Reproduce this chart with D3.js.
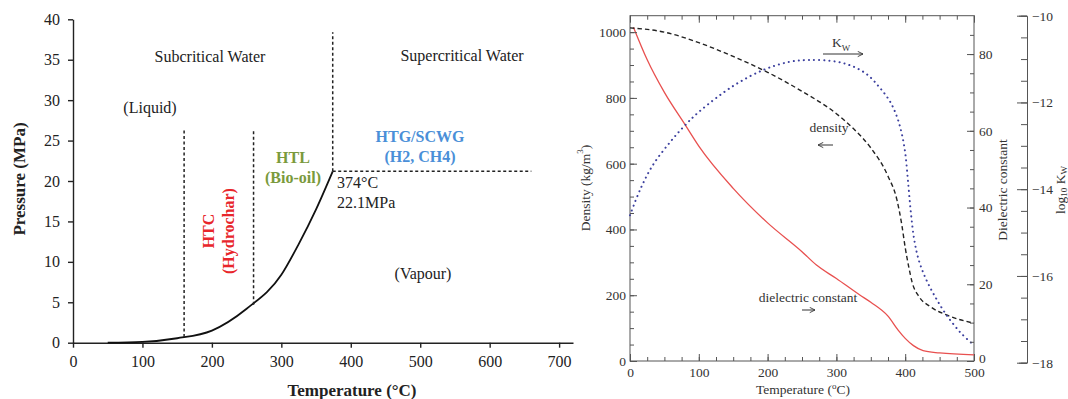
<!DOCTYPE html>
<html lang="en">
<head>
<meta charset="UTF-8">
<title>Water: phase diagram and properties</title>
<script src="https://d3js.org/d3.v7.min.js"></script>
<style>
  body { margin: 0; background: #fff; }
  svg { display: block; font-family: 'Liberation Serif', 'Times New Roman', serif; }
  .axL text { font-size: 16px; fill: #222; }
  .axL path, .axL line { stroke: #222; stroke-width: 1.4; }
  .axR text { font-size: 13.5px; fill: #333; }
  .axR path, .axR line { stroke: #555; stroke-width: 1; }
</style>
</head>
<body>
<script>
// ---- left panel: P-T diagram ----
const satTemp  = [50, 100, 150, 200, 250, 300, 325, 350, 374];
const satPress = [0.0, 0.1, 0.55, 1.5, 4.2, 8.4, 12.2, 16.5, 21.2];
const leftTempTicks  = [0, 100, 200, 300, 400, 500, 600, 700];
const leftPressTicks = [0, 5, 10, 15, 20, 25, 30, 35, 40];
// process boundaries (vertical dashed lines)
const boundTemp = [160, 260, 374];
const boundLow  = [0.7, 4.7, 21.2];
const boundHigh = [26.3, 26.3, 38.4];
// critical isobar
const critTemp  = [374, 660];
const critPress = [21.2, 21.2];

// ---- right panel: properties vs temperature ----
const rhoTemp = [0, 50, 100, 150, 200, 250, 300, 325, 350, 375, 388, 395, 400, 405, 410, 420, 436, 460, 500];
const rho     = [1013, 1000, 968, 926, 878, 820, 752, 706, 648, 562, 490, 415, 345, 288, 240, 196, 166, 140, 115];
const epsTemp = [5, 25, 50, 80, 100, 150, 200, 250, 271, 300, 334, 350, 375, 390, 400, 412, 426, 450, 500];
const eps     = [87, 78.5, 70, 61.6, 56, 45, 36, 28.5, 25, 21.5, 17.2, 15.3, 11.7, 8, 5.9, 4, 2.7, 2.1, 1.6];
const kwTemp  = [0, 15, 33, 58, 78, 100, 150, 194, 230, 260, 300, 324, 345, 363, 378, 388, 395, 400, 404, 408, 413, 420, 431, 445, 460, 480, 500];
const logKw   = [-14.6, -14.0, -13.45, -12.92, -12.56, -12.22, -11.62, -11.25, -11.07, -11.02, -11.06, -11.17, -11.36, -11.66, -11.98, -12.33, -12.72, -13.16, -13.8, -14.5, -15.15, -15.65, -16.1, -16.52, -16.9, -17.3, -17.6];
const rightTempTicks = [0, 100, 200, 300, 400, 500];
const rhoTicks = [0, 200, 400, 600, 800, 1000];
const epsTicks = [0, 20, 40, 60, 80];
const kwTicks  = [-18, -16, -14, -12, -10];

const SERIF = "'Liberation Serif', 'Times New Roman', serif";
const svg = d3.select('body').append('svg').attr('width', 1068).attr('height', 399);

function label(x, y, str, o = {}) {
  const t = svg.append('text')
    .attr('x', x).attr('y', y)
    .attr('text-anchor', o.anchor || 'middle')
    .attr('font-size', o.size || 16)
    .attr('font-weight', o.bold ? 'bold' : null)
    .attr('fill', o.color || '#222')
    .style('font-family', SERIF)
    .text(str);
  if (o.rotate) {
    t.attr('transform', `rotate(-90, ${x}, ${y})`).attr('dominant-baseline', 'central');
  }
  return t;
}
// d3 axes put font-family="sans-serif" on the group; swap it for the serif face
const serifAxis = g => g.attr('font-family', SERIF).selectAll('text').style('font-family', SERIF);

// ===== left panel =====
const xL = d3.scaleLinear().domain([0, 720]).range([73, 573]);
const yL = d3.scaleLinear().domain([0, 40]).range([342.7, 19.3]);

svg.append('g').attr('class', 'axL').attr('transform', `translate(0, ${yL(0)})`)
  .call(d3.axisBottom(xL).tickValues(leftTempTicks).tickSizeInner(5).tickSizeOuter(0).tickPadding(8))
  .call(serifAxis);
svg.append('g').attr('class', 'axL').attr('transform', `translate(${xL(0)}, 0)`)
  .call(d3.axisLeft(yL).tickValues(leftPressTicks).tickSizeInner(5).tickSizeOuter(0).tickPadding(8))
  .call(serifAxis);

const satLine = d3.line().x(d => xL(d[0])).y(d => yL(d[1])).curve(d3.curveMonotoneX);
svg.append('path').datum(d3.zip(satTemp, satPress))
  .attr('d', satLine).attr('fill', 'none').attr('stroke', '#111').attr('stroke-width', 1.8);

svg.selectAll('.bound').data(d3.zip(boundTemp, boundLow, boundHigh)).enter().append('line')
  .attr('class', 'bound')
  .attr('x1', d => xL(d[0])).attr('x2', d => xL(d[0]))
  .attr('y1', d => yL(d[1])).attr('y2', d => yL(d[2]))
  .attr('stroke', '#222').attr('stroke-width', 1.5).attr('stroke-dasharray', '3,2.5');

svg.append('line')
  .attr('x1', xL(critTemp[0])).attr('x2', xL(critTemp[1]))
  .attr('y1', yL(critPress[0])).attr('y2', yL(critPress[1]))
  .attr('stroke', '#222').attr('stroke-width', 1.5).attr('stroke-dasharray', '3,2.5');

label(210, 62, 'Subcritical Water');
label(462, 61, 'Supercritical Water');
label(150, 113, '(Liquid)');
label(423, 279, '(Vapour)');
label(337, 188, '374°C', { anchor: 'start' });
label(337, 208, '22.1MPa', { anchor: 'start' });
label(293, 163, 'HTL', { bold: true, color: '#7a9a3c' });
label(293, 183, '(Bio-oil)', { bold: true, color: '#7a9a3c' });
label(420, 142, 'HTG/SCWG', { bold: true, color: '#4a8fd8' });
label(420, 162, '(H2, CH4)', { bold: true, color: '#4a8fd8' });
label(208, 231, 'HTC', { bold: true, color: '#e8262b', rotate: true });
label(228, 231, '(Hydrochar)', { bold: true, color: '#e8262b', rotate: true });
label(19, 179, 'Pressure (MPa)', { bold: true, size: 17, rotate: true });
label(352, 396, 'Temperature (°C)', { bold: true, size: 17 });

// ===== right panel =====
const xR   = d3.scaleLinear().domain([0, 500]).range([630, 974]);
const yRho = d3.scaleLinear().domain([0, 1050]).range([361, 15.7]);
const yEps = d3.scaleLinear().domain([0, 90]).range([361, 15.7]);
const yKw  = d3.scaleLinear().domain([-18, -10]).range([362.7, 15.7]);

svg.append('rect').attr('x', xR(0)).attr('y', yRho(1050))
  .attr('width', xR(500) - xR(0)).attr('height', yRho(0) - yRho(1050))
  .attr('fill', 'none').attr('stroke', '#555').attr('stroke-width', 1);

const lineRho = d3.line().x(d => xR(d[0])).y(d => yRho(d[1])).curve(d3.curveMonotoneX);
const lineEps = d3.line().x(d => xR(d[0])).y(d => yEps(d[1])).curve(d3.curveMonotoneX);
const lineKw  = d3.line().x(d => xR(d[0])).y(d => yKw(d[1])).curve(d3.curveCatmullRom.alpha(0.5));

svg.append('path').datum(d3.zip(epsTemp, eps)).attr('d', lineEps)
  .attr('fill', 'none').attr('stroke', '#e8504f').attr('stroke-width', 1.3);
svg.append('path').datum(d3.zip(rhoTemp, rho)).attr('d', lineRho)
  .attr('fill', 'none').attr('stroke', '#222').attr('stroke-width', 1.4).attr('stroke-dasharray', '4.5,3');
svg.append('path').datum(d3.zip(kwTemp, logKw)).attr('d', lineKw)
  .attr('fill', 'none').attr('stroke', '#3b3f9e').attr('stroke-width', 2)
  .attr('stroke-linecap', 'round').attr('stroke-dasharray', '0.1,5');

function minorAxis(axis, tr) {
  svg.append('g').attr('class', 'axR').attr('transform', tr)
    .call(axis.tickFormat('').tickSizeInner(-4).tickSizeOuter(0))
    .call(g => g.select('.domain').remove());
}
const fmt = d3.format('d');

// bottom / top temperature axes
svg.append('g').attr('class', 'axR').attr('transform', `translate(0, ${yRho(0)})`)
  .call(d3.axisBottom(xR).tickValues(rightTempTicks).tickFormat(fmt).tickSizeInner(-7).tickSizeOuter(0).tickPadding(6))
  .call(g => g.select('.domain').remove())
  .call(serifAxis);
minorAxis(d3.axisBottom(xR).tickValues(d3.range(0, 501, 25)), `translate(0, ${yRho(0)})`);
svg.append('g').attr('class', 'axR').attr('transform', `translate(0, ${yRho(1050)})`)
  .call(d3.axisTop(xR).tickValues(rightTempTicks).tickFormat('').tickSizeInner(-7).tickSizeOuter(0))
  .call(g => g.select('.domain').remove());
minorAxis(d3.axisTop(xR).tickValues(d3.range(0, 501, 25)), `translate(0, ${yRho(1050)})`);

// density axis
svg.append('g').attr('class', 'axR').attr('transform', `translate(${xR(0)}, 0)`)
  .call(d3.axisLeft(yRho).tickValues(rhoTicks).tickFormat(fmt).tickSizeInner(-7).tickSizeOuter(0).tickPadding(4))
  .call(g => g.select('.domain').remove())
  .call(serifAxis);
minorAxis(d3.axisLeft(yRho).tickValues(d3.range(0, 1001, 50)), `translate(${xR(0)}, 0)`);

// dielectric axis
svg.append('g').attr('class', 'axR').attr('transform', `translate(${xR(500)}, 0)`)
  .call(d3.axisRight(yEps).tickValues(epsTicks).tickFormat(fmt).tickSizeInner(-7).tickSizeOuter(0).tickPadding(5))
  .call(g => g.select('.domain').remove())
  .call(g => g.selectAll('.tick text').filter(d => d === 0).attr('dy', '0.1em'))
  .call(serifAxis);
minorAxis(d3.axisRight(yEps).tickValues(d3.range(0, 86, 5)), `translate(${xR(500)}, 0)`);

// log Kw axis
svg.append('g').attr('class', 'axR').attr('transform', 'translate(1027, 0)')
  .call(d3.axisRight(yKw).tickValues(kwTicks).tickFormat(fmt).tickSizeInner(-10).tickSizeOuter(-8).tickPadding(5))
  .call(serifAxis);
svg.append('g').attr('class', 'axR').attr('transform', 'translate(1027, 0)')
  .call(d3.axisRight(yKw).tickValues(d3.range(-18, -9.9, 0.5)).tickFormat('').tickSizeInner(-6).tickSizeOuter(0))
  .call(g => g.select('.domain').remove());

// titles
const tTitle = label(803, 394, 'Temperature (', { size: 13.5, color: '#333' });
tTitle.append('tspan').attr('dy', -5).attr('font-size', 9).text('o');
tTitle.append('tspan').attr('dy', 5).text('C)');

const dTitle = label(585, 188, 'Density (kg/m', { size: 13.5, color: '#333', rotate: true });
dTitle.append('tspan').attr('dy', -5).attr('font-size', 9).text('3');
dTitle.append('tspan').attr('dy', 5).text(')');

label(1002, 190, 'Dielectric constant', { size: 13.5, color: '#333', rotate: true });

const kTitle = label(1060, 190, 'log', { size: 13.5, color: '#333', rotate: true });
kTitle.append('tspan').attr('dy', 4).attr('font-size', 9).text('10');
kTitle.append('tspan').attr('dy', -4).text(' K');
kTitle.append('tspan').attr('dy', 4).attr('font-size', 9).text('W');

// curve annotations
const kwLab = label(832, 47, 'K', { size: 13.5, color: '#333', anchor: 'start' });
kwLab.append('tspan').attr('dy', 4).attr('font-size', 9).text('W');
label(829, 132, 'density', { size: 13.5, color: '#333' });
label(808, 302, 'dielectric constant', { size: 13.5, color: '#333' });

svg.append('defs').append('marker')
  .attr('id', 'arr').attr('viewBox', '0 0 8 8').attr('refX', 7).attr('refY', 4)
  .attr('markerWidth', 7).attr('markerHeight', 7).attr('orient', 'auto')
  .append('path').attr('d', 'M1,1 L7,4 L1,7').attr('fill', 'none').attr('stroke', '#333').attr('stroke-width', 1);

function arrow(x1, x2, y) {
  svg.append('line').attr('x1', x1).attr('x2', x2).attr('y1', y).attr('y2', y)
    .attr('stroke', '#333').attr('stroke-width', 1).attr('marker-end', 'url(#arr)');
}
arrow(823, 863, 54);
arrow(833, 818, 145);
arrow(802, 815, 310);
</script>
</body>
</html>
